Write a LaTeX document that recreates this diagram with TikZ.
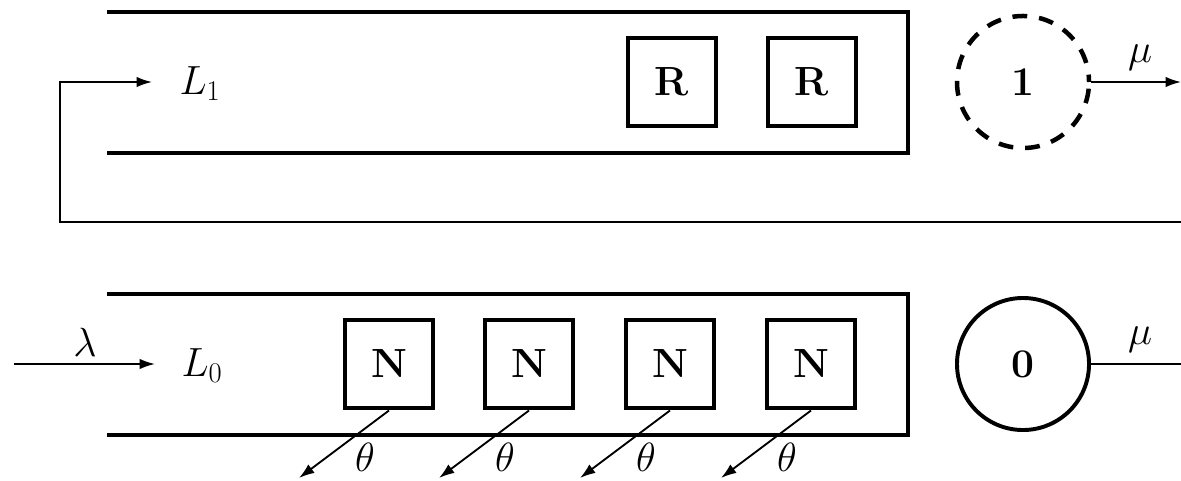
\documentclass[tikz,border=0pt]{standalone}
\RequirePackage{fix-cm}
\usetikzlibrary{arrows.meta}
\begin{document}
\begin{tikzpicture}[x=0.025cm,y=-0.025cm,
  wall/.style={line width=3.5pt},
  thin/.style={line width=1.3pt},
  arr/.style={thin,-{Latex[length=11pt,width=7.5pt]}},
  big/.style={font=\fontsize{29}{34}\selectfont},
  srv/.style={draw,line width=3.5pt,minimum width=2.2cm,minimum height=2.2cm,inner sep=0pt,big},
  station/.style={draw,circle,line width=2.8pt,minimum size=3.3cm,inner sep=0pt,big},
  lbl/.style={inner sep=0pt,big}]
\useasboundingbox (0,0) rectangle (1181,480);
% top queue
\draw[wall] (107,12) -- (908,12) -- (908,153) -- (107,153);
\node[srv] (r1) at (672,82) {\textbf{R}};
\node[srv] (r2) at (812,82) {\textbf{R}};
\node[station,line width=3.2pt,dash pattern=on 10.5pt off 8.5pt,dash phase=5.25pt] (s1) at (1023,82) {\textbf{1}};
\coordinate (o1) at (1181,82);
\draw[arr] (s1.east) -- (o1);
\node[lbl] (mu1) at (1140,58) {$\mu$};
\node[lbl] (L1) at (200,84) {$L_1$};
\coordinate (fbR) at (1181,222);
\coordinate (fbL) at (60,222);
\coordinate (fbT) at (60,82);
\coordinate (in1) at (152,82);
\draw[arr] (fbR) -- (fbL) -- (fbT) -- (in1);
% bottom queue
\draw[wall] (107,294) -- (908,294) -- (908,435) -- (107,435);
\foreach \i/\x in {1/389,2/529,3/670,4/811}{
  \node[srv] (n\i) at (\x,364) {\textbf{N}};
  \coordinate (t\i) at (\x-90,478);
  \draw[arr] (n\i.south) -- (t\i);
  \node[lbl] (th\i) at (\x-24,457) {$\theta$};
}
\node[station] (s0) at (1023,364) {\textbf{0}};
\coordinate (o0) at (1181,364);
\draw[thin] (s0.east) -- (o0);
\node[lbl] (mu0) at (1140,340) {$\mu$};
\coordinate (src) at (14,364);
\coordinate (in0) at (155,364);
\draw[arr] (src) -- (in0);
\node[lbl] (lam) at (85,342) {$\lambda$};
\node[lbl] (L0) at (202,366) {$L_0$};
\end{tikzpicture}
\end{document}
